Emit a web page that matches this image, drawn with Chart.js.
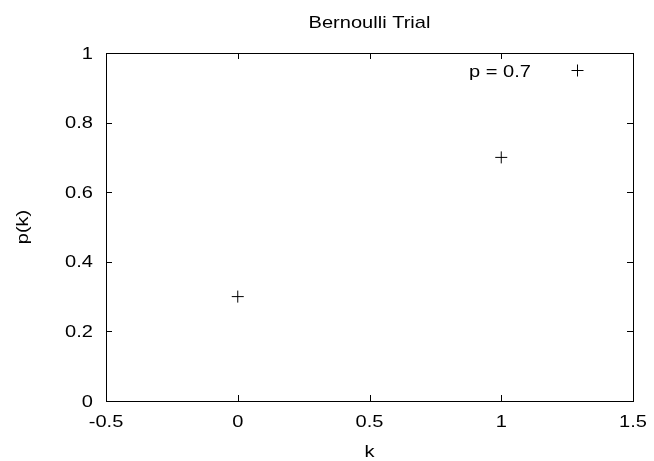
<!DOCTYPE html>
<html>
<head>
<meta charset="utf-8">
<script src="https://cdn.jsdelivr.net/npm/chart.js@4"></script>
<style>
  html, body { margin: 0; padding: 0; background: #fff; }
</style>
</head>
<body>
<canvas id="chart" width="654" height="461"></canvas>
<script>
// valores do gráfico
var kValues = [0, 1];
var probValues = [0.3, 0.7];
var xTicks = [-0.5, 0, 0.5, 1, 1.5];
var yTicks = [0, 0.2, 0.4, 0.6, 0.8, 1];
var seriesLabel = 'p = 0.7';
var chartTitle = 'Bernoulli Trial';
var xTitle = 'k';
var yTitle = 'p(k)';

var fontFamily = '"Liberation Sans", Arial, sans-serif';
var textStretch = 1.18; // a fonte do original é mais larga

// escreve texto levemente esticado na horizontal
function drawText(ctx, str, x, y, align, angle) {
    ctx.save();
    ctx.translate(x, y);
    if (angle) ctx.rotate(angle);
    ctx.scale(textStretch, 1);
    ctx.textAlign = align;
    ctx.textBaseline = 'middle';
    ctx.fillText(str, 0, 0);
    ctx.restore();
}

// moldura, marcas internas, rótulos, título e legenda no estilo gnuplot
var gnuplotFrame = {
    id: 'gnuplotFrame',
    afterDraw: function (chart) {
        var ctx = chart.ctx;
        var a = chart.chartArea;
        var xs = chart.scales.x, ys = chart.scales.y;
        var tick = 6;
        ctx.save();
        ctx.strokeStyle = '#000';
        ctx.lineWidth = 1;
        ctx.beginPath();
        xTicks.forEach(function (v) {
            var px = Math.round(xs.getPixelForValue(v)) + 0.5;
            ctx.moveTo(px, a.bottom); ctx.lineTo(px, a.bottom - tick);
            ctx.moveTo(px, a.top); ctx.lineTo(px, a.top + tick);
        });
        yTicks.forEach(function (v) {
            var py = Math.round(ys.getPixelForValue(v)) + 0.5;
            ctx.moveTo(a.left, py); ctx.lineTo(a.left + tick, py);
            ctx.moveTo(a.right, py); ctx.lineTo(a.right - tick, py);
        });
        ctx.stroke();
        ctx.strokeRect(Math.round(a.left) + 0.5, Math.round(a.top) + 0.5,
            Math.round(a.right - a.left), Math.round(a.bottom - a.top));

        ctx.fillStyle = '#000';
        ctx.font = '17px ' + fontFamily;

        // rótulos dos eixos
        xTicks.forEach(function (v) {
            drawText(ctx, String(v), xs.getPixelForValue(v), a.bottom + 21, 'center');
        });
        yTicks.forEach(function (v) {
            drawText(ctx, String(v), a.left - 13, ys.getPixelForValue(v) + 1, 'right');
        });

        drawText(ctx, chartTitle, (a.left + a.right) / 2, 23, 'center');
        drawText(ctx, xTitle, (a.left + a.right) / 2, 452, 'center');
        drawText(ctx, yTitle, 23, (a.top + a.bottom) / 2, 'center', -Math.PI / 2);

        // legenda
        drawText(ctx, seriesLabel, 531, 72, 'right');
        ctx.beginPath();
        ctx.moveTo(571.5, 70.5); ctx.lineTo(583.5, 70.5);
        ctx.moveTo(577.5, 64.5); ctx.lineTo(577.5, 76.5);
        ctx.stroke();
        ctx.restore();
    }
};

new Chart(document.getElementById('chart').getContext('2d'), {
    type: 'scatter',
    data: {
        datasets: [{
            label: seriesLabel,
            data: kValues.map(function (k, i) { return { x: k, y: probValues[i] }; }),
            pointStyle: 'cross',
            pointRadius: 6,
            pointBorderWidth: 1,
            borderColor: '#000',
            backgroundColor: '#000',
            showLine: false
        }]
    },
    options: {
        responsive: false,
        animation: false,
        layout: { padding: { top: 53, right: 21, left: 0, bottom: 0 } },
        scales: {
            x: {
                type: 'linear',
                min: -0.5,
                max: 1.5,
                afterBuildTicks: function (s) { s.ticks = xTicks.map(function (v) { return { value: v }; }); },
                afterFit: function (s) { s.height = 60; },
                grid: { display: false, drawTicks: false },
                border: { display: false },
                ticks: { display: false }
            },
            y: {
                type: 'linear',
                min: 0,
                max: 1,
                afterBuildTicks: function (s) { s.ticks = yTicks.map(function (v) { return { value: v }; }); },
                afterFit: function (s) { s.width = 106; },
                grid: { display: false, drawTicks: false },
                border: { display: false },
                ticks: { display: false }
            }
        },
        plugins: {
            legend: { display: false },
            title: { display: false },
            tooltip: { enabled: false }
        }
    },
    plugins: [gnuplotFrame]
});
</script>
</body>
</html>
